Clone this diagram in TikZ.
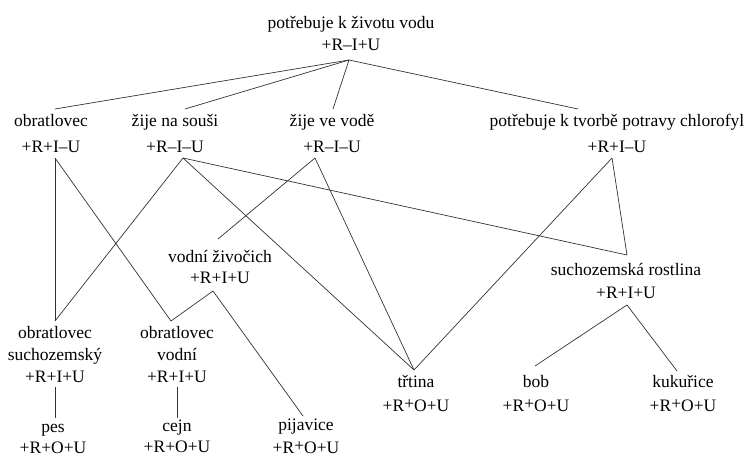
\documentclass[tikz,border=0pt]{standalone}
\usepackage{fontspec}
\setmainfont{Liberation Serif}
\newfontfamily\tnr{Liberation Serif}
\newcommand{\rp}{\raisebox{1.8pt}{+}}
\begin{document}
\begin{tikzpicture}[x=1pt,y=-1pt,
  lbl/.style={align=center,inner sep=0pt,anchor=north,font=\tnr\fontsize{17.5}{22}\selectfont},
  edge/.style={draw=black!80,line width=0.7pt}]
\useasboundingbox (0,0) rectangle (752,458);
% nodes
\node[lbl] (top)  at (351,16)  {potřebuje k životu vodu\\+R–I+U};
\node[lbl] (obr)  at (51,114)  {obratlovec\\[4pt]+R+I–U};
\node[lbl] (sous) at (175,114) {žije na souši\\[4pt]+R–I–U};
\node[lbl] (voda) at (332,114) {žije ve vodě\\[4pt]+R–I–U};
\node[lbl] (chl)  at (617,114) {potřebuje k tvorbě potravy chlorofyl\\[4pt]+R+I–U};
\node[lbl] (vz)   at (220,250) {vodní živočich\\[-1pt]+R+I+U};
\node[lbl] (sr)   at (626,263) {suchozemská rostlina\\[1pt]+R+I+U};
\node[lbl] (os)   at (55,326)  {obratlovec\\suchozemský\\+R+I+U};
\node[lbl] (ov)   at (177,326) {obratlovec\\vodní\\+R+I+U};
\node[lbl] (pes)  at (53,424)  {pes\\[-1pt]+R+O+U};
\node[lbl] (cejn) at (177,420) {cejn\\[-1pt]+R+O+U};
\node[lbl] (pij)  at (306,419) {pijavice\\[1pt]+R\rp O+U};
\node[lbl] (trt)  at (416,375) {třtina\\[2pt]+R\rp O+U};
\node[lbl] (bob)  at (536,375) {bob\\[2pt]+R\rp O+U};
\node[lbl] (kuk)  at (683,375) {kukuřice\\[2pt]+R\rp O+U};
% connection points of the nodes
\coordinate (top-b)  at (349,60);
\coordinate (obr-t)  at (55,109);  \coordinate (obr-b)  at (55,158);
\coordinate (sous-t) at (185,109); \coordinate (sous-b) at (183,158);
\coordinate (voda-t) at (333,109); \coordinate (voda-b) at (315,158);
\coordinate (chl-t)  at (578,109); \coordinate (chl-b)  at (612,158);
\coordinate (vz-t)   at (218,239); \coordinate (vz-b)   at (213,291);
\coordinate (sr-t)   at (627,255); \coordinate (sr-b)   at (627,305);
\coordinate (os-t)   at (55,321);  \coordinate (os-b)   at (55,387);
\coordinate (ov-t)   at (171,321); \coordinate (ov-b)   at (177,387);
\coordinate (pes-t)  at (55,418);
\coordinate (cejn-t) at (177,418);
\coordinate (pij-t)  at (303,416);
\coordinate (trt-t)  at (414,370);
\coordinate (bob-t)  at (535,366);
\coordinate (kuk-t)  at (677,371);
% connectors
\draw[edge] (top-b) -- (obr-t);
\draw[edge] (top-b) -- (sous-t);
\draw[edge] (top-b) -- (voda-t);
\draw[edge] (top-b) -- (chl-t);
\draw[edge] (obr-b) -- (os-t);
\draw[edge] (obr-b) -- (ov-t);
\draw[edge] (sous-b) -- (os-t);
\draw[edge] (sous-b) -- (trt-t);
\draw[edge] (sous-b) -- (sr-t);
\draw[edge] (voda-b) -- (vz-t);
\draw[edge] (voda-b) -- (trt-t);
\draw[edge] (chl-b) -- (trt-t);
\draw[edge] (chl-b) -- (sr-t);
\draw[edge] (vz-b) -- (ov-t);
\draw[edge] (vz-b) -- (pij-t);
\draw[edge] (sr-b) -- (bob-t);
\draw[edge] (sr-b) -- (kuk-t);
\draw[edge] (os-b) -- (pes-t);
\draw[edge] (ov-b) -- (cejn-t);
\end{tikzpicture}
\end{document}
